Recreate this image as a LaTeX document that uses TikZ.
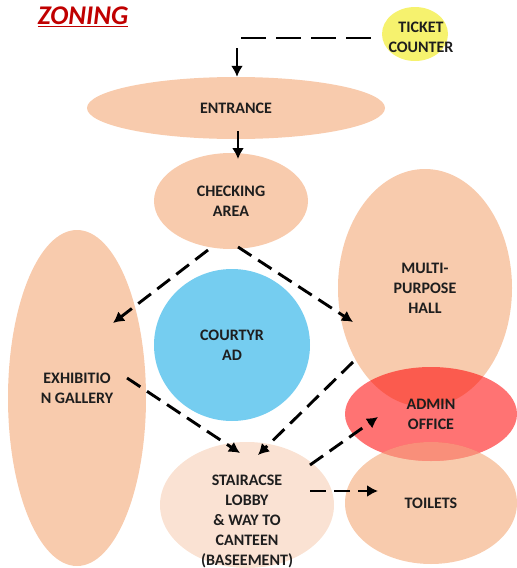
\documentclass[tikz,border=0pt]{standalone}
\usepackage{fontspec}
\setmainfont{Carlito}
\usetikzlibrary{shapes.geometric,arrows.meta,calc}
\definecolor{peach}{RGB}{248,203,173}
\definecolor{lightpeach}{RGB}{250,226,211}
\definecolor{courtblue}{RGB}{117,205,240}
\definecolor{ticketyellow}{RGB}{246,242,110}
\definecolor{zoningred}{RGB}{192,0,0}
\definecolor{txt}{RGB}{30,30,30}
\tikzstyle{zonetext}=[align=center, text=txt, font=\bfseries\fontsize{16}{20}\selectfont]
\tikzstyle{zone}=[ellipse, fill=peach, inner sep=0pt, zonetext]
\tikzstyle{dasharrow}=[line width=2.9pt, dash pattern=on 16pt off 8pt, -{Latex[length=11pt,width=12pt]}]
\tikzstyle{solidarrow}=[line width=2.9pt, -{Latex[length=11pt,width=12pt]}]

\begin{document}
\begin{tikzpicture}[x=1pt,y=-1pt]
\useasboundingbox (0,0) rectangle (517,568);
\node[font=\bfseries\itshape\fontsize{27}{30}\selectfont, text=zoningred] (title) at (83,17) {\underline{ZONING}};

% zones
\node[zone, minimum width=138, minimum height=336, label={[zonetext, yshift=10pt]center:EXHIBITIO\\N GALLERY}] (gal) at (77,398) {};
\node[zone, fill=courtblue, minimum width=156, minimum height=152] (court) at (232,345) {COURTYR\\AD};
\node[zone, minimum width=154, minimum height=96] (check) at (231,201) {CHECKING\\AREA};
\node[zone, minimum width=298, minimum height=62] (ent) at (236,108) {ENTRANCE};
\node[zone, minimum width=174, minimum height=238] (hall) at (425,288) {MULTI-\\PURPOSE\\HALL};
\node[zone, minimum width=172, minimum height=122] (toil) at (431,503) {TOILETS};
\node[zone, fill=red, fill opacity=0.55, text opacity=1, minimum width=172, minimum height=94] (admin) at (431,414) {ADMIN\\OFFICE};
\begin{scope}
  \clip (admin.center) ellipse [x radius=86, y radius=47];
  \fill[peach, opacity=0.47] (toil.center) ellipse [x radius=86, y radius=61];
\end{scope}
\node[zone, fill=lightpeach, minimum width=174, minimum height=126, label={[zonetext, yshift=-16pt]center:STAIRACSE\\LOBBY\\\& WAY TO\\CANTEEN\\(BASEEMENT)}] (lobby) at (247,505) {};
\node[ellipse, fill=ticketyellow, inner sep=0pt, minimum width=66, minimum height=54, label={[zonetext, xshift=6pt, yshift=-3pt]center:TICKET\\COUNTER}] (tc) at (415,34) {};

% connectors
\coordinate (turn) at (237,38);
\draw[line width=2.9pt, dash pattern=on 25pt off 10pt, shorten <=11pt] (turn -| tc.west) -- (turn);
\draw[solidarrow, shorten <=10pt] (turn) -- (turn |- ent.north);
\draw[solidarrow] ([shift={(2,23)}]ent.center) -- ([shift={(7,-42)}]check.center);
\draw[dasharrow] ([shift={(-23,49)}]check.center) -- ([shift={(36,-75)}]gal.center);
\draw[dasharrow] ([shift={(7,46)}]check.center) -- ([shift={(-72,34)}]hall.center);
\draw[dasharrow] ([shift={(50,-20)}]gal.center) -- ([shift={(-7,-52)}]lobby.center);
\draw[dasharrow] ([shift={(-72,74)}]hall.center) -- ([shift={(11,-50)}]lobby.center);
\draw[dasharrow] ([shift={(63,-40)}]lobby.center) -- ([shift={(-53,3)}]admin.center);
\draw[dasharrow] ([shift={(63,-14)}]lobby.center) -- ([shift={(-53,-12)}]toil.center);
\end{tikzpicture}
\end{document}
